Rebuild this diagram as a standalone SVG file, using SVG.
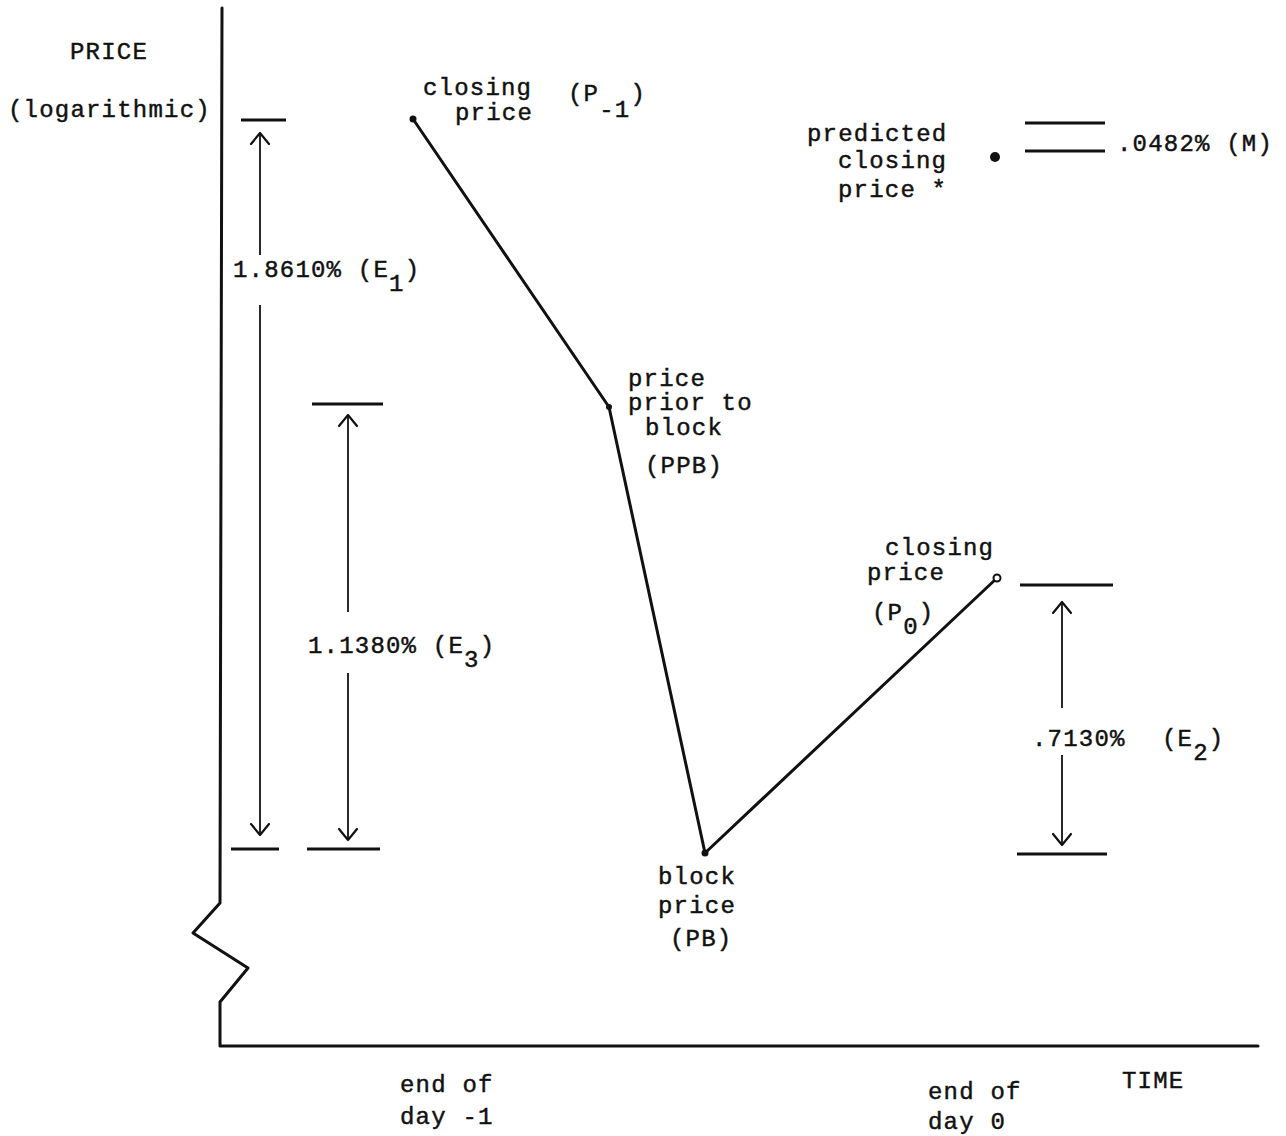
<svg xmlns="http://www.w3.org/2000/svg" width="1286" height="1136" viewBox="0 0 1286 1136">
<style>
  text { font-family: "Liberation Mono", "DejaVu Sans Mono", monospace; font-size: 24px; letter-spacing: 1.2px; fill: #111; stroke: #111; stroke-width: 0.45px; }
  .ln { stroke: #111; stroke-width: 3; fill: none; stroke-linecap: round; stroke-linejoin: round; }
  .tick { stroke: #111; stroke-width: 3.2; fill: none; }
  .dim { stroke: #111; stroke-width: 1.8; fill: none; marker-end: url(#vhead); }
  .dot { fill: #111; }
</style>
<defs>
  <marker id="vhead" markerUnits="userSpaceOnUse" viewBox="-14 -12 16 24" refX="0" refY="0" markerWidth="16" markerHeight="24" orient="auto">
    <path d="M-11,-9 L0,0 L-11,9" fill="none" stroke="#111" stroke-width="2.2" stroke-linecap="round" stroke-linejoin="round"/>
  </marker>
</defs>
<rect width="1286" height="1136" fill="#fff"/>

<g id="axes">
  <path class="ln" d="M222,8 L220,903 L193,933 L248,968 L220,1002 L220,1046 L1258,1046"/>
  <text x="70" y="59">PRICE</text>
  <text x="8" y="117">(logarithmic)</text>
  <text x="1122" y="1088">TIME</text>
  <text x="400" y="1092">end of</text>
  <text x="400" y="1124">day -1</text>
  <text x="928" y="1099">end of</text>
  <text x="928" y="1129">day 0</text>
</g>

<g id="connectors">
  <path class="ln" d="M413,119 L609,407"/>
  <path class="ln" d="M609,407 L705,853"/>
  <path class="ln" d="M705,853 L997,578"/>
</g>

<g id="node-p-1">
  <circle class="dot" cx="413" cy="119" r="3.5"/>
  <text x="423" y="95">closing</text>
  <text x="455" y="120">price</text>
  <text x="568" y="101">(P<tspan dy="16">-1</tspan><tspan dy="-16">)</tspan></text>
</g>

<g id="node-ppb">
  <circle class="dot" cx="609" cy="407" r="3"/>
  <text x="628" y="386">price</text>
  <text x="628" y="410">prior to</text>
  <text x="645" y="435">block</text>
  <text x="645" y="473">(PPB)</text>
</g>

<g id="node-pb">
  <circle class="dot" cx="705" cy="853" r="3.5"/>
  <text x="658" y="884">block</text>
  <text x="658" y="913">price</text>
  <text x="670" y="946">(PB)</text>
</g>

<g id="node-p0">
  <circle cx="997" cy="578" r="3.5" fill="#fff" stroke="#111" stroke-width="2"/>
  <text x="885" y="555">closing</text>
  <text x="867" y="580">price</text>
  <text x="872" y="620">(P<tspan dy="14">0</tspan><tspan dy="-14">)</tspan></text>
</g>

<g id="node-predicted">
  <circle class="dot" cx="995" cy="157" r="5"/>
  <text x="807" y="141">predicted</text>
  <text x="838" y="168">closing</text>
  <text x="838" y="197">price *</text>
  <line class="tick" x1="1025" y1="123" x2="1105" y2="123"/>
  <line class="tick" x1="1025" y1="151" x2="1105" y2="151"/>
  <text x="1117" y="151">.0482% (M)</text>
</g>

<g id="dim-e1">
  <line class="tick" x1="241" y1="120" x2="286" y2="120"/>
  <line class="tick" x1="231" y1="849" x2="279" y2="849"/>
  <line class="dim" x1="260" y1="255" x2="260" y2="133"/>
  <line class="dim" x1="260" y1="305" x2="260" y2="835"/>
  <text x="233" y="277">1.8610% (E<tspan dy="14">1</tspan><tspan dy="-14">)</tspan></text>
</g>

<g id="dim-e3">
  <line class="tick" x1="312" y1="404" x2="383" y2="404"/>
  <line class="tick" x1="307" y1="849" x2="380" y2="849"/>
  <line class="dim" x1="348" y1="612" x2="348" y2="415"/>
  <line class="dim" x1="348" y1="673" x2="348" y2="840"/>
  <text x="308" y="653">1.1380% (E<tspan dy="14">3</tspan><tspan dy="-14">)</tspan></text>
</g>

<g id="dim-e2">
  <line class="tick" x1="1020" y1="585" x2="1113" y2="585"/>
  <line class="tick" x1="1017" y1="854" x2="1107" y2="854"/>
  <line class="dim" x1="1062" y1="708" x2="1062" y2="602"/>
  <line class="dim" x1="1062" y1="755" x2="1062" y2="845"/>
  <text x="1032" y="746">.7130%</text>
  <text x="1162" y="746">(E<tspan dy="14">2</tspan><tspan dy="-14">)</tspan></text>
</g>
</svg>
